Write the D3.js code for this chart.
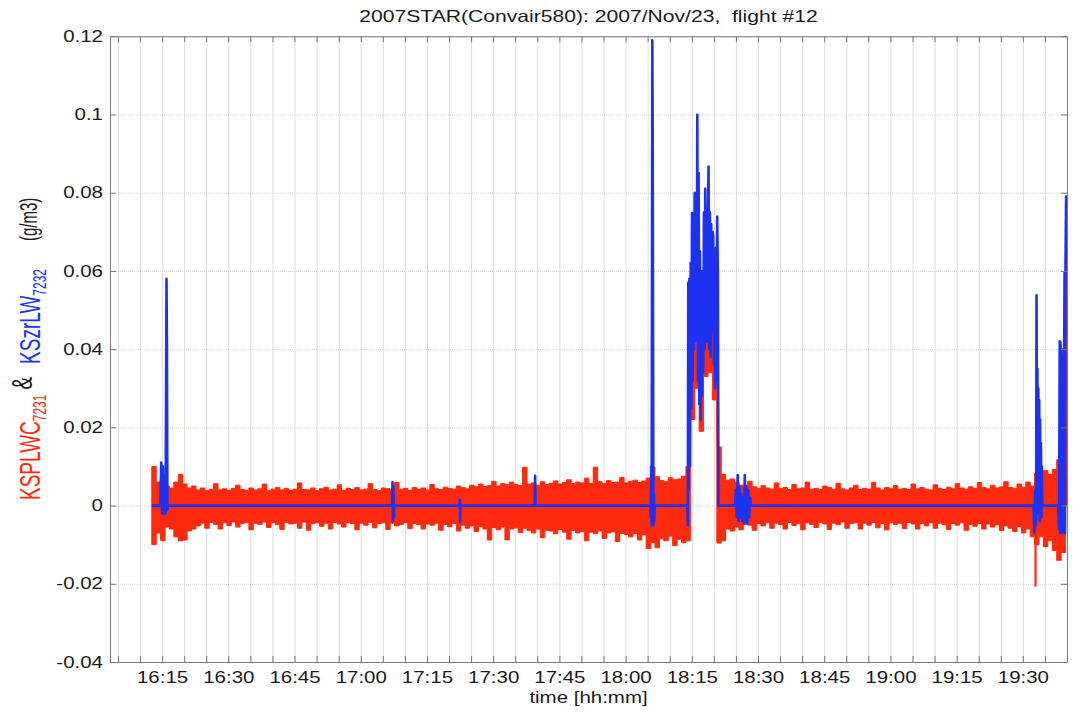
<!DOCTYPE html>
<html>
<head>
<meta charset="utf-8">
<script src="https://cdn.jsdelivr.net/npm/d3@7"></script>
<style>
  body { margin: 0; background: #fff; }
  text { font-family: "Liberation Sans", Arial, Helvetica, sans-serif; white-space: pre; }
</style>
</head>
<body>
<svg id="chart" width="1074" height="715"></svg>
<script>
// KSPLWC 7231 (red): min / max per 1-minute bin, first bin starts at 16:12:40
var redStart = "16:12:40";
var redHi = [
  0.010, 0.006, 0.007, 0.005, 0.0045, 0.006, 0.008, 0.0055, 0.0045, 0.005,
  0.004, 0.0045, 0.0038, 0.0042, 0.0056, 0.004, 0.0043, 0.0039, 0.0044, 0.0052,
  0.0041, 0.0039, 0.0045, 0.004, 0.0043, 0.0055, 0.0038, 0.0042, 0.0046, 0.004,
  0.0044, 0.0039, 0.0042, 0.0058, 0.0041, 0.004, 0.0045, 0.0038, 0.0043, 0.0047,
  0.004, 0.0042, 0.0053, 0.0039, 0.0044, 0.0041, 0.0046, 0.004, 0.0042, 0.0056,
  0.0041, 0.0038, 0.0045, 0.0043, 0.004, 0.0059, 0.0042, 0.0044, 0.0039, 0.0046,
  0.0042, 0.0045, 0.004, 0.0054, 0.0043, 0.0041, 0.0047, 0.0044, 0.0042, 0.005,
  0.0046, 0.0043, 0.0052, 0.0048, 0.0055, 0.0049, 0.0051, 0.0062, 0.005, 0.0056,
  0.0053, 0.006, 0.0054, 0.0051, 0.0098, 0.0055, 0.0058, 0.0052, 0.0061, 0.0054,
  0.0057, 0.0063, 0.0055, 0.0059, 0.0066, 0.0056, 0.006, 0.0058, 0.007, 0.0057,
  0.0098, 0.0061, 0.0056, 0.0064, 0.0059, 0.006, 0.0072, 0.0058, 0.0062, 0.0065,
  0.0059, 0.0063, 0.007, 0.0098, 0.0074, 0.0064, 0.0061, 0.0071, 0.0066, 0.0068,
  0.0075, 0.010, 0.050, 0.070, 0.060, 0.065, 0.070, 0.062, 0.015, 0.008,
  0.0065, 0.0068, 0.006, 0.0052, 0.0046, 0.0062, 0.0048, 0.0044, 0.0051, 0.0045,
  0.0042, 0.0058, 0.0044, 0.0046, 0.0041, 0.0054, 0.0043, 0.0045, 0.006, 0.0042,
  0.0044, 0.0041, 0.005, 0.0046, 0.0042, 0.0057, 0.0043, 0.004, 0.0045, 0.0052,
  0.0041, 0.0044, 0.0042, 0.0059, 0.0045, 0.004, 0.0046, 0.0043, 0.0051, 0.0042,
  0.0044, 0.0041, 0.0055, 0.0043, 0.0046, 0.0042, 0.004, 0.0053, 0.0044, 0.0041,
  0.0047, 0.0043, 0.0056, 0.0045, 0.0042, 0.0048, 0.0044, 0.0059, 0.0046, 0.0043,
  0.0052, 0.0045, 0.0048, 0.0061, 0.0046, 0.0044, 0.0055, 0.0047, 0.006, 0.005,
  0.0083, 0.0065, 0.009, 0.008, 0.0092, 0.0117, 0.009
];
var redLo = [
  -0.010, -0.007, -0.009, -0.0055, -0.006, -0.008, -0.009, -0.0088, -0.0065, -0.006,
  -0.0052, -0.0045, -0.0058, -0.0043, -0.0048, -0.006, -0.0044, -0.0051, -0.0042, -0.0055,
  -0.0046, -0.0043, -0.0062, -0.0045, -0.0048, -0.0042, -0.0056, -0.0044, -0.0049, -0.0061,
  -0.0043, -0.0047, -0.0045, -0.0058, -0.0042, -0.0063, -0.0046, -0.0044, -0.0053, -0.0045,
  -0.006, -0.0043, -0.0047, -0.0055, -0.0044, -0.0046, -0.0062, -0.0045, -0.005, -0.0043,
  -0.0057, -0.0046, -0.0044, -0.0061, -0.0045, -0.0052, -0.0048, -0.0044, -0.0059, -0.0046,
  -0.0049, -0.006, -0.0047, -0.005, -0.0045, -0.0063, -0.0048, -0.0054, -0.0046, -0.0065,
  -0.005, -0.0058, -0.0052, -0.0066, -0.0054, -0.006, -0.0088, -0.0056, -0.0062, -0.0055,
  -0.0088, -0.006, -0.0057, -0.0069, -0.0058, -0.0064, -0.007, -0.006, -0.0082, -0.0063,
  -0.0065, -0.0072, -0.0061, -0.0068, -0.0086, -0.0064, -0.007, -0.0066, -0.009, -0.0068,
  -0.0072, -0.0065, -0.0084, -0.007, -0.0067, -0.0092, -0.0071, -0.0074, -0.008, -0.0072,
  -0.0088, -0.0075, -0.011, -0.0095, -0.0108, -0.0085, -0.009, -0.0078, -0.0102, -0.0086,
  -0.0095, -0.009, 0.022, 0.030, 0.019, 0.033, 0.034, 0.027, -0.0096, -0.009,
  -0.006, -0.0065, -0.0055, -0.0062, -0.0048, -0.005, -0.0063, -0.0046, -0.0052, -0.0044,
  -0.0058, -0.0045, -0.0049, -0.006, -0.0043, -0.0051, -0.0046, -0.0062, -0.0044, -0.0048,
  -0.0056, -0.0043, -0.0047, -0.0061, -0.0045, -0.0049, -0.0042, -0.0058, -0.0046, -0.0044,
  -0.006, -0.0045, -0.005, -0.0043, -0.0057, -0.0046, -0.0062, -0.0044, -0.0048, -0.0045,
  -0.0059, -0.0043, -0.0047, -0.006, -0.0046, -0.0052, -0.0044, -0.0058, -0.0045, -0.0049,
  -0.0061, -0.0046, -0.005, -0.0044, -0.0063, -0.0048, -0.0053, -0.0046, -0.006, -0.0047,
  -0.0055, -0.0049, -0.0064, -0.0052, -0.0058, -0.0066, -0.0054, -0.007, -0.006, -0.008,
  -0.010, -0.008, -0.0105, -0.009, -0.0115, -0.014, -0.012
];
// narrow red excursions
var redSpikeTimes = ["19:32:52", "19:38:34", "19:39:52"];
var redSpikeVals = [-0.0207, 0.042, 0.079];

// KSzrLW 7232 (blue)
var blueTimes = [
  "16:12:40", "16:14:36", "16:14:48", "16:15:00", "16:15:12", "16:15:24", "16:15:36", "16:15:48",
  "16:16:00", "16:16:06", "16:16:12", "16:16:24",
  "17:07:06", "17:07:12", "17:07:18", "17:07:24", "17:07:30", "17:07:36",
  "17:22:24", "17:22:27", "17:22:30", "17:22:36",
  "17:39:24", "17:39:30", "17:39:36",
  "18:05:36", "18:05:42", "18:05:48", "18:05:54", "18:06:03", "18:06:09", "18:06:18", "18:06:24",
  "18:06:30", "18:06:36",
  "18:14:00", "18:14:06", "18:14:12", "18:14:18", "18:14:27", "18:14:36", "18:14:45", "18:14:54",
  "18:15:03", "18:15:12", "18:15:21", "18:15:30", "18:15:39", "18:15:48", "18:15:57", "18:16:06",
  "18:16:15", "18:16:24", "18:16:33", "18:16:42", "18:16:51", "18:17:00", "18:17:09", "18:17:18",
  "18:17:27", "18:17:36", "18:17:45", "18:17:54", "18:18:03", "18:18:12", "18:18:21", "18:18:30",
  "18:18:39", "18:18:48", "18:18:57", "18:19:06", "18:19:15", "18:19:24", "18:19:33", "18:19:42",
  "18:19:51", "18:20:00", "18:20:09", "18:20:18", "18:20:27", "18:20:36", "18:20:45", "18:20:54",
  "18:21:03", "18:21:12",
  "18:24:48", "18:25:00", "18:25:12", "18:25:24", "18:25:36", "18:25:48", "18:26:00", "18:26:12",
  "18:26:24", "18:26:36", "18:26:48", "18:27:00", "18:27:12", "18:27:24", "18:27:36", "18:27:48",
  "18:28:00", "18:28:12", "18:28:24",
  "19:32:24", "19:32:36", "19:32:48", "19:33:00", "19:33:06", "19:33:12", "19:33:18", "19:33:24",
  "19:33:30", "19:33:36", "19:33:42", "19:33:48", "19:33:54", "19:34:00", "19:34:06", "19:34:12",
  "19:34:18", "19:34:24",
  "19:38:00", "19:38:12", "19:38:21", "19:38:27", "19:38:33", "19:38:39", "19:38:45", "19:38:51",
  "19:38:57", "19:39:03", "19:39:09", "19:39:15", "19:39:21", "19:39:27", "19:39:33", "19:39:39",
  "19:39:48", "19:39:51"
];
var blueVals = [
  0, 0, 0.011, -0.002, 0.010, -0.002, 0.004, -0.002,
  0.058, 0.040, -0.001, 0,
  0, 0.006, -0.004, 0.005, -0.003, 0,
  0, 0.0015, -0.0042, 0,
  0, 0.0076, 0,
  0, -0.003, 0.010, -0.005, 0.119, 0.0935, -0.005, 0.003,
  -0.004, 0,
  0, -0.005, 0.057, 0.004, 0.058, 0.010, 0.062, 0.025,
  0.0748, 0.032, 0.070, 0.040, 0.080, 0.042, 0.078, 0.045,
  0.0999, 0.032, 0.085, 0.026, 0.065, 0.022, 0.060, 0.028,
  0.058, 0.034, 0.075, 0.040, 0.081, 0.045, 0.070, 0.042,
  0.074, 0.0867, 0.040, 0.075, 0.038, 0.072, 0.045, 0.070,
  0.0688, 0.036, 0.064, 0.030, 0.066, 0.032, 0.0739, 0.060,
  0.000, 0,
  0, 0.004, -0.003, 0.0078, -0.004, 0.005, -0.003, 0.003,
  -0.004, 0.002, -0.0045, 0.0078, -0.004, 0.005, -0.0045, 0.004,
  -0.003, 0.002, 0,
  0, -0.007, 0.004, -0.005, 0.0538, 0.0, 0.035, -0.002,
  0.030, 0.0, 0.027, -0.004, 0.022, 0.0, 0.016, -0.003,
  0.010, 0,
  0, -0.006, 0.042, -0.007, 0.041, -0.007, 0.040, -0.007,
  0.038, -0.007, 0.037, -0.007, 0.036, 0.0595, -0.007, 0.060,
  0.079, 0.0785
];

var yTicks = [-0.04, -0.02, 0, 0.02, 0.04, 0.06, 0.08, 0.1, 0.12];
var xDomain = ["16:03:12", "19:40:00"];

var titleText = "2007STAR(Convair580): 2007/Nov/23,  flight #12";
var xLabelText = "time [hh:mm]";

var redColor = "#fd2a0e";
var blueColor = "#1d32f0";
var stretch = 1.28;

var parseT = d3.timeParse("%H:%M:%S");
var svg = d3.select("#chart");
var plotL = 110, plotR = 1067, plotT = 36.3, plotB = 662;

var x = d3.scaleTime().domain(xDomain.map(parseT)).range([plotL, plotR]);
var y = d3.scaleLinear().domain([-0.04, 0.12]).range([plotB, plotT]);

svg.append("rect").attr("width", 1074).attr("height", 715).attr("fill", "#fff");

// grid
var minor = d3.timeMinute.every(5).range(x.domain()[0], x.domain()[1]);
svg.append("g")
    .attr("transform", "translate(0," + plotB + ")")
    .call(d3.axisBottom(x).tickValues(minor).tickSize(-(plotB - plotT)).tickFormat(""))
    .call(g => g.select(".domain").remove())
    .call(g => g.selectAll("line").attr("stroke", "#dedede").attr("stroke-width", 1));
svg.append("g")
    .attr("transform", "translate(" + plotL + ",0)")
    .call(d3.axisLeft(y).tickValues(yTicks).tickSize(-(plotR - plotL)).tickFormat(""))
    .call(g => g.select(".domain").remove())
    .call(g => g.selectAll("line").attr("stroke", "#d4d4d4").attr("stroke-dasharray", "1,1"));

// series
svg.append("clipPath").attr("id", "plotClip")
    .append("rect").attr("x", plotL).attr("y", plotT).attr("width", plotR - plotL).attr("height", plotB - plotT);
var plot = svg.append("g").attr("clip-path", "url(#plotClip)");

var t0 = parseT(redStart);
var redData = redHi.map((v, i) => ({ t: d3.timeMinute.offset(t0, i), hi: v, lo: redLo[i] }));
redData.push({ t: d3.timeMinute.offset(t0, redHi.length), hi: redHi[redHi.length - 1], lo: redLo[redLo.length - 1] });

plot.append("path")
    .datum(redData)
    .attr("fill", redColor)
    .attr("stroke", redColor)
    .attr("stroke-width", 1)
    .attr("d", d3.area()
        .x(d => x(d.t))
        .y0(d => y(d.lo))
        .y1(d => y(d.hi))
        .curve(d3.curveStepAfter));

plot.selectAll(".redSpike")
    .data(redSpikeTimes.map((t, i) => ({ t: parseT(t), v: redSpikeVals[i] })))
    .enter()
    .append("line")
    .attr("class", "redSpike")
    .attr("x1", d => x(d.t)).attr("x2", d => x(d.t))
    .attr("y1", y(0)).attr("y2", d => y(d.v))
    .attr("stroke", redColor)
    .attr("stroke-width", 2.2);

var blueData = blueTimes.map((t, i) => ({ t: parseT(t), v: blueVals[i] }));
plot.append("path")
    .datum(blueData)
    .attr("fill", "none")
    .attr("stroke", blueColor)
    .attr("stroke-width", 2.6)
    .attr("stroke-linejoin", "round")
    .attr("d", d3.line().x(d => x(d.t)).y(d => y(d.v)));

// axes (ticks inward)
function styleAxis(g) {
    g.select(".domain").attr("stroke", "#7a7a7a");
    g.selectAll(".tick line").attr("stroke", "#7a7a7a");
    g.selectAll("text").attr("fill", "#1a1a1a").style("font-size", "16px")
        .attr("transform", "scale(" + stretch + ",1)");
}

svg.append("g")
    .attr("transform", "translate(0," + plotB + ")")
    .call(d3.axisBottom(x).tickValues(minor).tickSizeInner(-6).tickSizeOuter(0).tickPadding(10)
        .tickFormat(d => d.getMinutes() % 15 === 0 ? d3.timeFormat("%H:%M")(d) : ""))
    .call(styleAxis);
svg.append("g")
    .attr("transform", "translate(0," + plotT + ")")
    .call(d3.axisTop(x).tickValues(minor).tickSizeInner(-6).tickSizeOuter(0).tickFormat(""))
    .call(styleAxis);
svg.append("g")
    .attr("transform", "translate(" + plotL + ",0)")
    .call(d3.axisLeft(y).tickValues(yTicks).tickSizeInner(-6).tickSizeOuter(0).tickPadding(5.5)
        .tickFormat(d => String(+d.toFixed(2))))
    .call(styleAxis);
svg.append("g")
    .attr("transform", "translate(" + plotR + ",0)")
    .call(d3.axisRight(y).tickValues(yTicks).tickSizeInner(-6).tickSizeOuter(0).tickFormat(""))
    .call(styleAxis);

// title and labels
svg.append("text")
    .attr("transform", "translate(" + ((plotL + plotR) / 2) + ",22) scale(" + stretch + ",1)")
    .attr("text-anchor", "middle")
    .style("font-size", "16.5px")
    .attr("fill", "#1a1a1a")
    .text(titleText);

svg.append("text")
    .attr("transform", "translate(" + ((plotL + plotR) / 2) + ",703) scale(" + stretch + ",1)")
    .attr("text-anchor", "middle")
    .style("font-size", "16px")
    .attr("fill", "#1a1a1a")
    .text(xLabelText);

var yl = svg.append("text")
    .attr("transform", "translate(40,500) scale(1.6,1) rotate(-90)")
    .style("font-size", "19px");
yl.append("tspan").attr("fill", redColor).text("KSPLWC");
yl.append("tspan").attr("fill", redColor).attr("dy", 4).style("font-size", "12px").text("7231");
yl.append("tspan").attr("fill", "#1a1a1a").attr("dx", 5).attr("dy", -9).text("&");
yl.append("tspan").attr("fill", blueColor).attr("dx", 13).attr("dy", 5).text("KSzrLW");
yl.append("tspan").attr("fill", blueColor).attr("dy", 4).style("font-size", "12px").text("7232");
yl.append("tspan").attr("fill", "#1a1a1a").attr("dx", 28).attr("dy", -6).style("font-size", "15px").text("(g/m3)");
</script>
</body>
</html>
